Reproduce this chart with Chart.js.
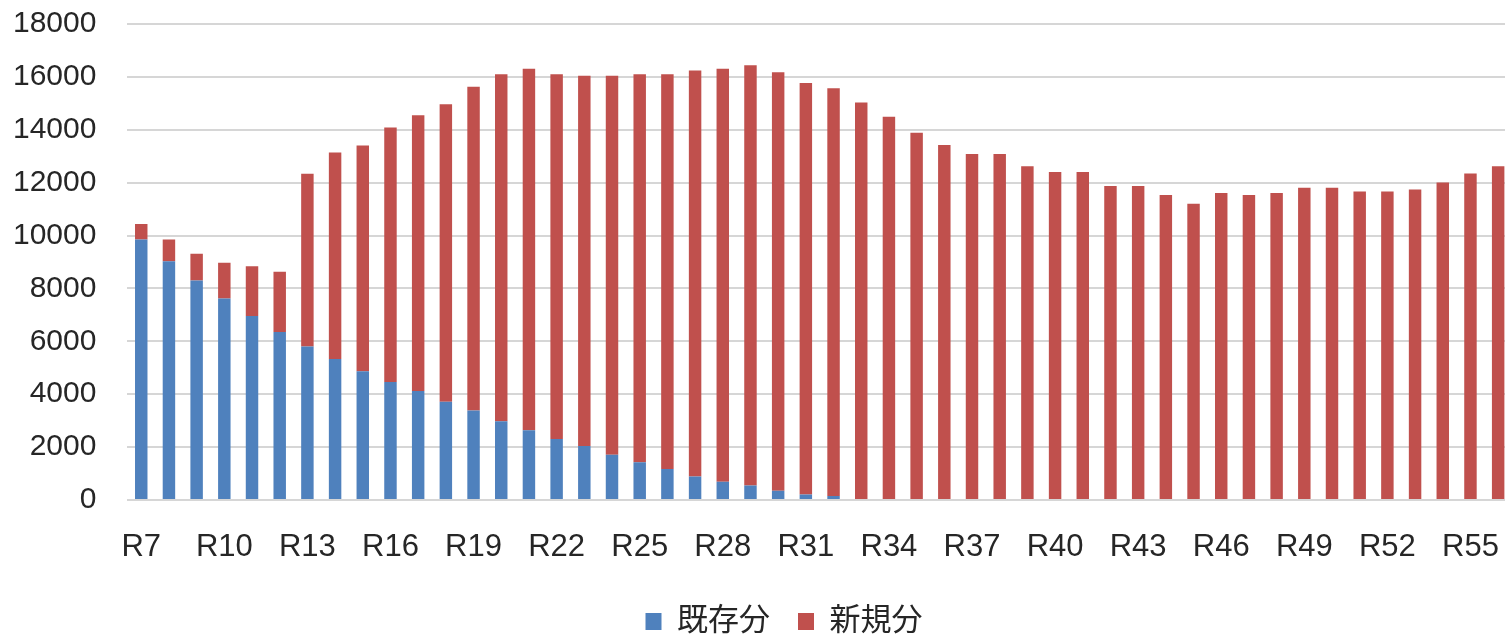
<!DOCTYPE html>
<html>
<head>
<meta charset="utf-8">
<script src="https://cdn.jsdelivr.net/npm/chart.js@4.4.1/dist/chart.umd.min.js"></script>
<style>
  html, body { margin: 0; padding: 0; background: #ffffff; overflow: hidden; }
  #wrap { width: 1512px; height: 638px; }
</style>
</head>
<body>
<div id="wrap"><canvas id="c" width="1512" height="638"></canvas></div>
<script>
const categories = [
  'R7','R8','R9','R10','R11','R12','R13','R14','R15','R16',
  'R17','R18','R19','R20','R21','R22','R23','R24','R25','R26',
  'R27','R28','R29','R30','R31','R32','R33','R34','R35','R36',
  'R37','R38','R39','R40','R41','R42','R43','R44','R45','R46',
  'R47','R48','R49','R50','R51','R52','R53','R54','R55','R56'
];
const existingValues = [
  9850, 9030, 8300, 7620, 6960, 6350, 5800, 5330, 4870, 4460,
  4120, 3720, 3380, 2980, 2640, 2310, 2040, 1710, 1430, 1170,
  890, 690, 550, 350, 210, 150, 0, 0, 0, 0,
  0, 0, 0, 0, 0, 0, 0, 0, 0, 0,
  0, 0, 0, 0, 0, 0, 0, 0, 0, 0
];
const newValues = [
  590, 820, 1010, 1350, 1880, 2280, 6540, 7810, 8540, 9630,
  10430, 11250, 12250, 13120, 13670, 13790, 14000, 14330, 14670, 14930,
  15350, 15620, 15890, 15830, 15560, 15420, 15030, 14490, 13890, 13420,
  13080, 13080, 12620, 12400, 12400, 11870, 11870, 11530, 11200, 11610,
  11530, 11610, 11810, 11810, 11670, 11670, 11740, 12010, 12350, 12620
];
const seriesNames = ['既存分', '新規分'];
const yTicks = { min: 0, max: 18000, step: 2000 };

const legendShift = {
  id: 'legendShift',
  afterLayout(chart) {
    const lg = chart.legend;
    if (!lg) return;
    lg.left += 28; lg.right += 28;
    lg.top += 9; lg.bottom += 9;
  }
};

new Chart(document.getElementById('c'), {
  type: 'bar',
  data: {
    labels: categories,
    datasets: [
      { label: seriesNames[0], data: existingValues, backgroundColor: '#4F81BD', borderWidth: 0 },
      { label: seriesNames[1], data: newValues, backgroundColor: '#C0504D', borderWidth: 0 }
    ]
  },
  options: {
    responsive: false,
    animation: false,
    devicePixelRatio: 1,
    layout: { padding: { top: 24, right: 0, bottom: 0, left: 0 } },
    datasets: { bar: { categoryPercentage: 1.0, barPercentage: 0.45 } },
    plugins: {
      tooltip: { enabled: false },
      legend: {
        position: 'bottom',
        labels: {
          color: '#262626',
          font: { family: "'Liberation Sans', 'Noto Sans CJK JP', sans-serif", size: 31 },
          boxWidth: 16,
          boxHeight: 17,
          padding: 28
        }
      }
    },
    scales: {
      x: {
        stacked: true,
        grid: { display: false, drawTicks: false },
        border: { display: false },
        afterFit(scale) {
          scale.height = 69;
          scale.paddingLeft = 0;
          scale.paddingRight = 0;
        },
        ticks: {
          autoSkip: false,
          maxRotation: 0,
          minRotation: 0,
          padding: 29,
          color: '#262626',
          font: { family: "'Liberation Sans', sans-serif", size: 31 },
          callback(value, index) { return index % 3 === 0 ? categories[index] : ''; }
        }
      },
      y: {
        stacked: true,
        min: yTicks.min,
        max: yTicks.max,
        afterFit(scale) {
          scale.width = 127.4;
          scale.paddingTop = 0;
          scale.paddingBottom = 0;
        },
        grid: { color: '#d6d6d6', lineWidth: 2, drawTicks: false },
        border: { display: false },
        ticks: {
          stepSize: yTicks.step,
          padding: 31,
          color: '#262626',
          font: { family: "'Liberation Sans', sans-serif", size: 30 },
          callback(value) { return String(value); }
        }
      }
    }
  },
  plugins: [legendShift]
});
</script>
</body>
</html>
